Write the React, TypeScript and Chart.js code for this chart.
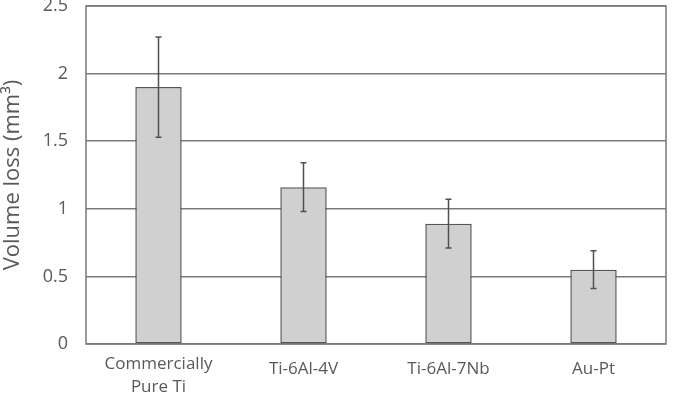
import { useEffect, useRef } from "react";
import { Chart, registerables } from "chart.js";

Chart.register(...registerables);

// Alloy groups and their mean wear volume loss with error margins
const categories: (string | string[])[] = [["Commercially", "Pure Ti"], "Ti-6Al-4V", "Ti-6Al-7Nb", "Au-Pt"];
const volumeLoss = [1.9, 1.16, 0.89, 0.55];
const errorMargin = [0.37, 0.18, 0.18, 0.14];
const yTicks = [0, 0.5, 1, 1.5, 2, 2.5];
const yTickLabels = ["0", "0.5", "1", "1.5", "2", "2.5"];

const FONT = "'Open Sans', 'Noto Sans', sans-serif";
const TEXT = "#595959";
const LINE = "#7a7a7a";

// Outline around the plot area, drawn under the bars
const frame = {
  id: "frame",
  beforeDatasetsDraw(chart: any) {
    const { ctx, chartArea: a } = chart;
    ctx.save();
    ctx.strokeStyle = LINE;
    ctx.lineWidth = 1.5;
    ctx.strokeRect(a.left, a.top, a.right - a.left, a.bottom - a.top);
    ctx.restore();
  },
};

// Vertical error bars with small caps on each bar
const errorBars = {
  id: "errorBars",
  afterDatasetsDraw(chart: any) {
    const { ctx } = chart;
    const y = chart.scales.y;
    const meta = chart.getDatasetMeta(0);
    ctx.save();
    ctx.strokeStyle = "#505050";
    ctx.lineWidth = 1.5;
    meta.data.forEach((bar: any, i: number) => {
      const x = bar.x;
      const hi = y.getPixelForValue(volumeLoss[i] + errorMargin[i]);
      const lo = y.getPixelForValue(volumeLoss[i] - errorMargin[i]);
      ctx.beginPath();
      ctx.moveTo(x, hi);
      ctx.lineTo(x, lo);
      ctx.moveTo(x - 3, hi);
      ctx.lineTo(x + 3, hi);
      ctx.moveTo(x - 3, lo);
      ctx.lineTo(x + 3, lo);
      ctx.stroke();
    });
    ctx.restore();
  },
};

export default function App() {
  const canvasRef = useRef<HTMLCanvasElement>(null);

  useEffect(() => {
    const canvas = canvasRef.current;
    if (!canvas) return;
    const chart = new Chart(canvas, {
      type: "bar",
      data: {
        labels: categories,
        datasets: [
          {
            data: volumeLoss,
            backgroundColor: "#d0d0d0",
            borderColor: "#555555",
            borderWidth: 1.5,
            borderSkipped: false,
            categoryPercentage: 1,
            barPercentage: 0.32,
          },
        ],
      },
      options: {
        responsive: false,
        animation: false,
        devicePixelRatio: 1,
        layout: { padding: { top: 6, right: 8, left: 0, bottom: 0 } },
        plugins: {
          legend: { display: false },
          tooltip: { enabled: false },
        },
        scales: {
          x: {
            grid: { display: false, drawTicks: false },
            border: { display: false },
            ticks: {
              color: TEXT,
              padding: 9,
              maxRotation: 0,
              autoSkip: false,
              font: (ctx: any) => ({
                family: FONT,
                size: 17,
                lineHeight: Array.isArray(categories[ctx.index]) ? "23px" : "33px",
              }),
            },
            afterFit(scale: any) {
              scale.height = 61;
              scale.paddingLeft = 0;
              scale.paddingRight = 0;
            },
          },
          y: {
            min: 0,
            max: 2.5,
            grid: { color: LINE, lineWidth: 1.5, drawTicks: false },
            border: { display: false },
            ticks: {
              color: TEXT,
              padding: 18,
              font: { family: FONT, size: 18 },
              callback: (_v: any, i: number) => yTickLabels[i],
            },
            afterBuildTicks(scale: any) {
              scale.ticks = yTicks.map((v) => ({ value: v }));
            },
            title: {
              display: true,
              text: "Volume loss (mm³)",
              color: TEXT,
              font: { family: FONT, size: 22 },
              padding: { top: 0, bottom: 0 },
            },
            afterFit(scale: any) {
              scale.width = 86;
              scale.paddingTop = 0;
              scale.paddingBottom = 0;
            },
          },
        },
      },
      plugins: [frame, errorBars],
    });
    return () => chart.destroy();
  }, []);

  return (
    <div style={{ position: "absolute", left: 0, top: 0, width: 674, height: 405, background: "#fff" }}>
      <canvas ref={canvasRef} width={674} height={405} style={{ display: "block" }} />
    </div>
  );
}
